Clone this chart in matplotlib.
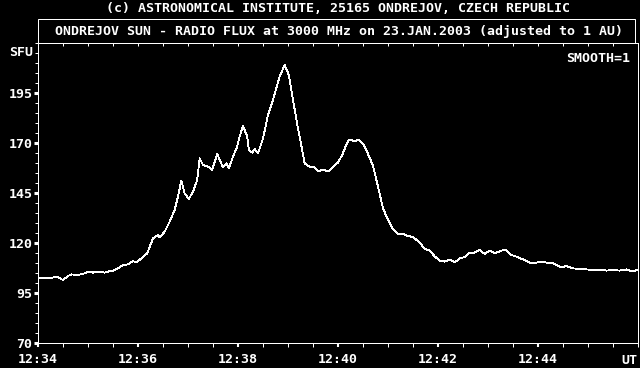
import numpy as np
import matplotlib
matplotlib.use('Agg')
import matplotlib.pyplot as plt
from matplotlib.patches import Rectangle
from matplotlib.ticker import MultipleLocator

# radio flux at 3000 MHz, seconds after 12:34:00 UT and flux in SFU
secs = [0, 16, 20, 24, 30, 36, 40, 48, 56, 60, 66, 72, 80, 84, 90, 96, 102, 108,
        114, 118, 124, 131, 138, 144, 146, 152, 158, 164, 168, 172, 176, 181, 186,
        191, 194, 198, 204, 209, 215, 222, 226, 229, 234, 239, 242, 246, 251, 253,
        257, 260, 264, 270, 276, 282, 290, 296, 301, 306, 312, 317, 320, 326, 332,
        337, 342, 348, 354, 360, 365, 371, 374, 380, 385, 390, 394, 402, 408, 414,
        420, 426, 432, 438, 444, 450, 458, 464, 470, 476, 482, 488, 494, 500, 506,
        512, 518, 524, 530, 536, 542, 548, 556, 562, 568, 574, 582, 590, 596, 602,
        610, 616, 622, 628, 634, 642, 650, 658, 666, 674, 682, 690, 698, 706, 713, 719]
flux = [102.3, 102.3, 103.2, 102.8, 101.5, 103.5, 104.3, 104.0, 104.8, 105.7, 105.2,
        105.7, 105.2, 105.7, 106.2, 107.3, 109.0, 109.3, 111.0, 110.2, 112.3, 114.8,
        122.3, 124.0, 122.8, 125.7, 130.7, 136.5, 143.2, 151.2, 144.8, 142.0, 145.7,
        151.5, 162.3, 159.0, 158.2, 156.5, 164.5, 157.8, 159.8, 157.3, 163.2, 168.2,
        173.2, 178.7, 173.2, 166.5, 165.2, 167.0, 164.8, 172.3, 184.0, 191.5, 203.2,
        209.0, 204.0, 191.5, 177.3, 166.5, 159.8, 158.2, 157.8, 155.7, 156.8, 155.7,
        158.2, 160.2, 164.0, 170.2, 171.8, 170.7, 171.8, 169.5, 166.5, 158.6, 148.2,
        137.3, 131.5, 127.0, 124.5, 124.5, 123.5, 123.0, 120.2, 117.0, 116.2, 113.3,
        111.2, 110.7, 111.8, 110.3, 112.3, 113.0, 115.2, 115.2, 116.5, 114.5, 116.2,
        114.8, 116.2, 116.5, 114.0, 113.2, 111.8, 110.2, 109.8, 110.7, 110.2, 110.2,
        109.0, 107.8, 108.5, 107.3, 107.0, 106.8, 106.5, 106.7, 106.2, 106.5, 106.2,
        106.8, 105.7, 106.5]
time_labels = ['12:34', '12:36', '12:38', '12:40', '12:42', '12:44']
flux_ticks = [70, 95, 120, 145, 170, 195]

W, H = 640, 368
px = 0.72  # one pixel in points
font = {'family': 'DejaVu Sans Mono', 'weight': 'bold', 'size': 9.55, 'color': 'white'}

fig = plt.figure(figsize=(6.4, 3.68), dpi=100, facecolor='black')
ax = fig.add_axes([38 / W, (H - 343) / H, 600 / W, 300 / H], facecolor='black')

minutes = np.array(secs) / 60.0
ax.plot(minutes, flux, color='white', lw=0.6, antialiased=False)

ax.set_xlim(0, 12)
ax.set_ylim(70, 220)
for s in ax.spines.values():
    s.set_color('white')
    s.set_linewidth(px)

ax.set_yticks(flux_ticks)
ax.set_yticklabels([str(v) for v in flux_ticks], fontdict=font)
ax.yaxis.set_minor_locator(MultipleLocator(5))
ax.tick_params(axis='y', which='major', direction='out', length=3, width=2.2,
               color='white', pad=1)
ax.tick_params(axis='y', which='minor', direction='out', length=2, width=px,
               color='white')

ax.set_xticks(range(0, 12, 2))
ax.set_xticklabels(time_labels, fontdict=font)
ax.xaxis.set_minor_locator(MultipleLocator(0.5))
ax.tick_params(axis='x', which='major', direction='out', length=3, width=1.5,
               color='white', pad=4)
ax.tick_params(axis='x', which='minor', direction='out', length=3, width=px,
               color='white')

top = ax.secondary_xaxis('top')
top.set_xticks(np.arange(0.5, 12, 0.5))
top.tick_params(direction='in', length=2, width=px, color='white', labeltop=False)
top.spines['top'].set_visible(False)

# header box
fig.patches.append(Rectangle((38 / W, (H - 43) / H), 597 / W, 24 / H,
                             transform=fig.transFigure, fill=False,
                             edgecolor='white', lw=px))
fig.text(339 / W, (H - 31) / H,
         'ONDREJOV SUN - RADIO FLUX at 3000 MHz on 23.JAN.2003 (adjusted to 1 AU)',
         ha='center', va='center', fontdict=font)
fig.text(338 / W, (H - 8) / H,
         '(c) ASTRONOMICAL INSTITUTE, 25165 ONDREJOV, CZECH REPUBLIC',
         ha='center', va='center', fontdict=font)
fig.text(33 / W, (H - 52) / H, 'SFU', ha='right', va='center', fontdict=font)
fig.text(630 / W, (H - 58) / H, 'SMOOTH=1', ha='right', va='center', fontdict=font)
fig.text(637 / W, (H - 360) / H, 'UT', ha='right', va='center', fontdict=font)

plt.savefig('out.png', dpi=100, facecolor='black')
